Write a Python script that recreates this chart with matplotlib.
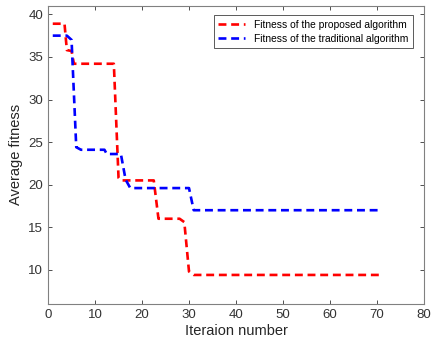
import matplotlib.pyplot as plt

plt.rcParams['font.family'] = ['Liberation Sans', 'DejaVu Sans']

# breakpoints
x_prop = [1, 3.5, 4, 5, 5.5, 14, 15, 15.5, 22.5, 23.5, 28, 29, 30, 31, 71]
y_prop = [38.9, 38.9, 35.8, 35.7, 34.2, 34.2, 20.8, 20.5, 20.5, 16.0, 16.0, 15.6, 9.8, 9.4, 9.4]
x_trad = [1, 4, 5, 6, 7, 12, 12.5, 15.5, 16.5, 17.5, 30, 31, 71]
y_trad = [37.5, 37.5, 37.0, 24.4, 24.1, 24.1, 23.6, 23.6, 20.6, 19.6, 19.6, 17.0, 17.0]

fig = plt.figure(figsize=(4.33, 3.43), dpi=100)
ax = fig.add_axes([0.111, 0.114, 0.868, 0.869])

ax.plot(x_prop, y_prop, color='#ff0000', lw=1.9, dashes=(3, 1.8),
        label='Fitness of the proposed algorithm')
ax.plot(x_trad, y_trad, color='#0000ff', lw=1.9, dashes=(3, 1.8),
        label='Fitness of the traditional algorithm')

ax.set_xlim(0, 80)
ax.set_ylim(6, 41)
ax.set_xticks(range(0, 81, 10))
ax.set_yticks(range(10, 41, 5))
ax.tick_params(direction='in', top=True, right=True, labelsize=9.5,
               colors='#333333', length=3, width=0.6)
for s in ax.spines.values():
    s.set_color('#808080')
    s.set_linewidth(0.8)
ax.set_xlabel('Iteraion number', fontsize=10.5, color='#262626', labelpad=2)
ax.set_ylabel('Average fitness', fontsize=10.5, color='#262626', labelpad=4)

leg = ax.legend(loc='upper right', fontsize=7.4, fancybox=False,
                edgecolor='#404040', framealpha=1, handlelength=2.6,
                handletextpad=0.9, borderpad=0.45, labelspacing=0.35,
                bbox_to_anchor=(0.985, 0.985))
leg.get_frame().set_linewidth(0.6)

fig.savefig('out.png', dpi=100)
